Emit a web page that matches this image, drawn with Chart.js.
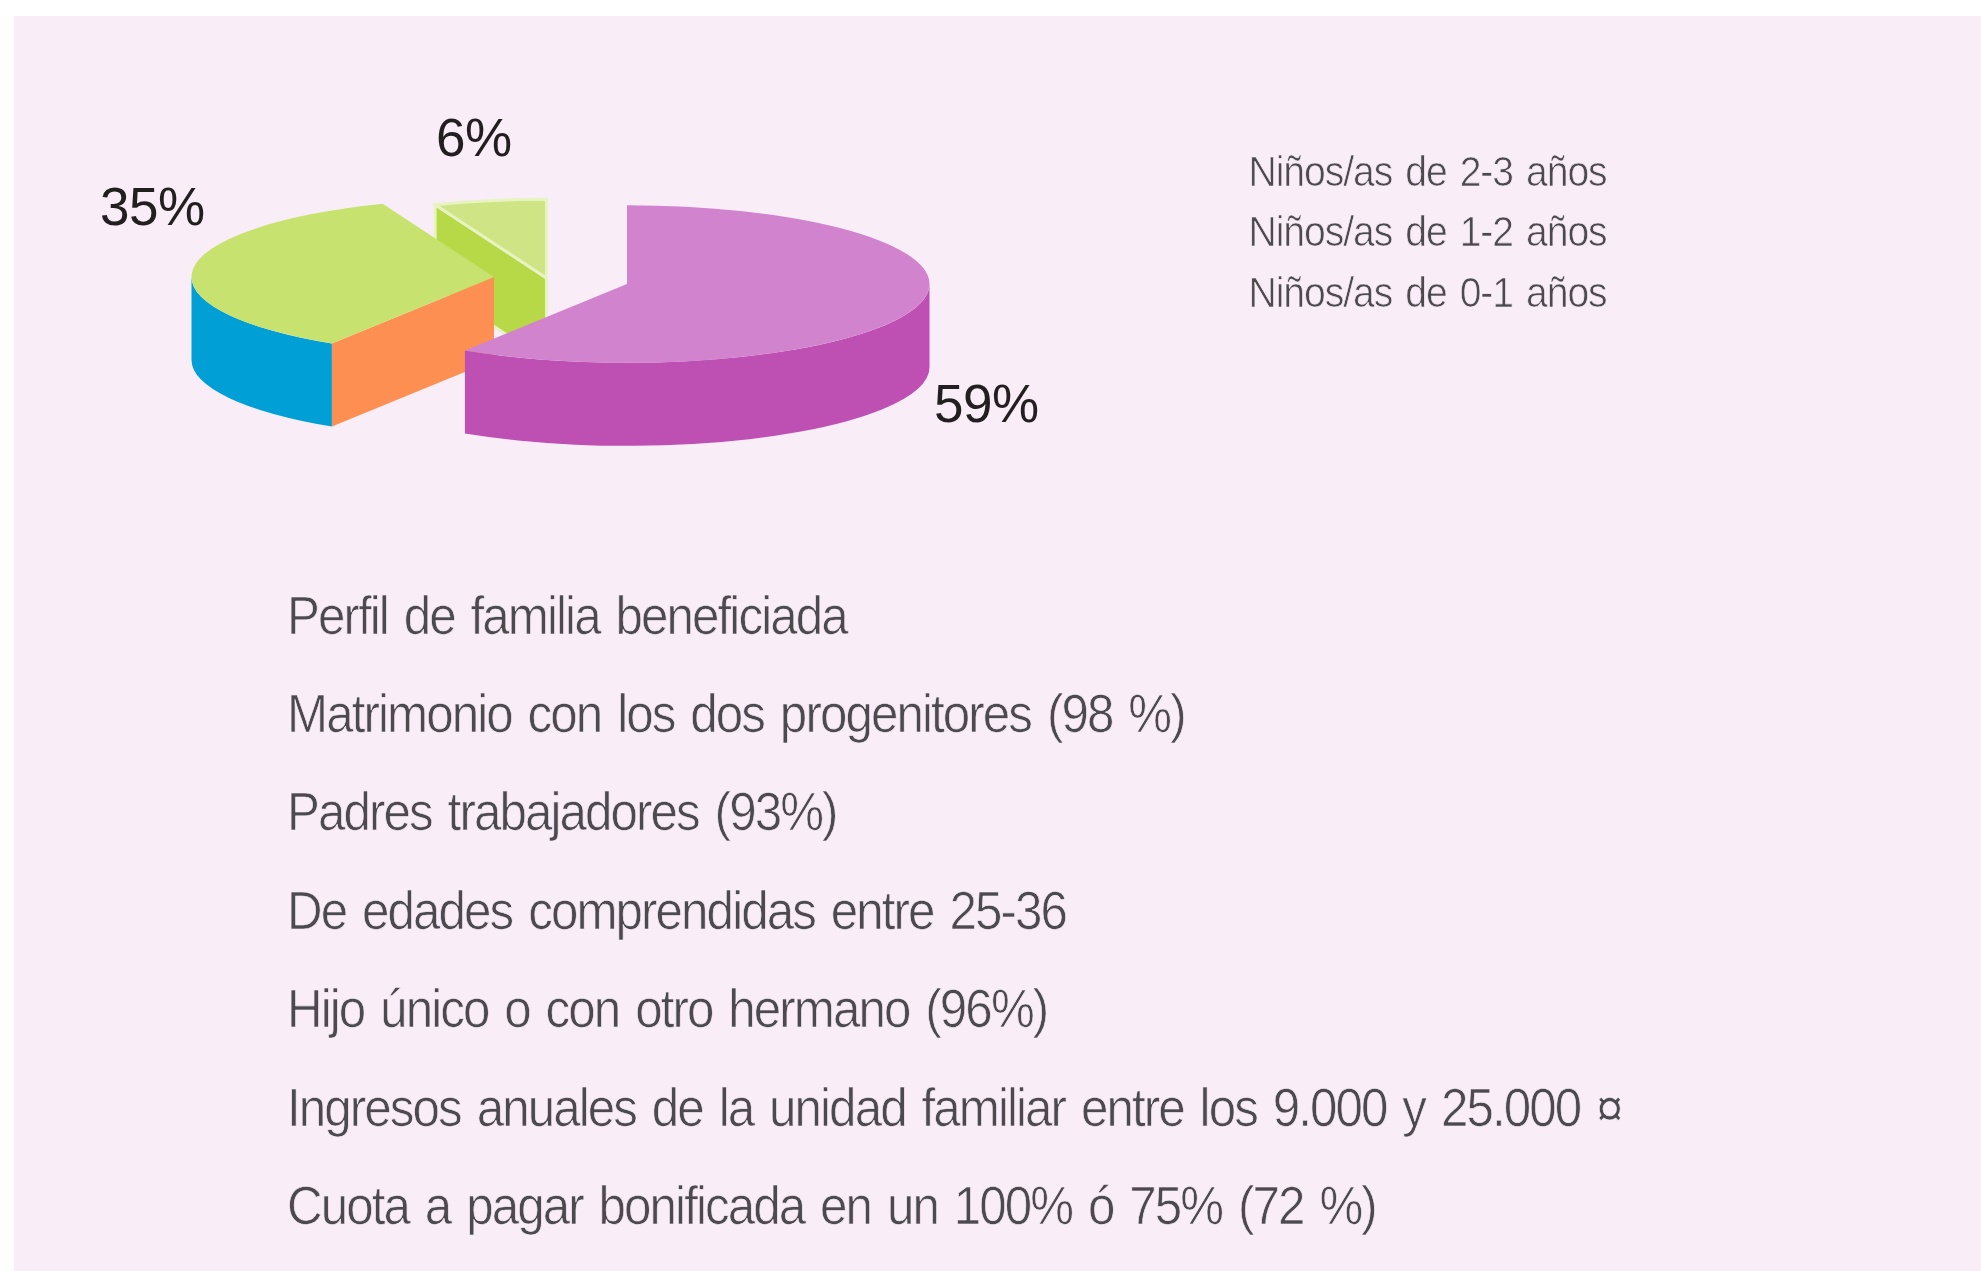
<!DOCTYPE html>
<html><head><meta charset="utf-8">
<style>html,body{margin:0;padding:0;background:#fff}canvas{display:block}</style>
<script src="https://cdn.jsdelivr.net/npm/chart.js@4"></script>
</head><body>
<div style="width:1981px;height:1271px"><canvas id="c" width="1981" height="1271"></canvas></div>
<script>
const categories=["Niños/as de 0-1 años","Niños/as de 1-2 años","Niños/as de 2-3 años"];
const shares=[59,35,6];
const valueLabels=["59%","35%","6%"];
const profileLines=["Perfil de familia beneficiada","Matrimonio con los dos progenitores (98 %)","Padres trabajadores (93%)","De edades comprendidas entre 25-36","Hijo único o con otro hermano (96%)","Ingresos anuales de la unidad familiar entre los 9.000 y 25.000 ¤","Cuota a pagar bonificada en un 100% ó 75% (72 %)"];
const topColors=["#d183cd","#c8e26f","#cfe585"];
const wallColors=["#bf50b3","#00a0d6","#b7d947"];
const cutColors=["#bf50b3","#fe8f52","#b7d947"];
const edgeColors=[null,null,"#e8f3c2"];

const PANEL={x:14,y:16,color:"#f9edf8"};
const PIE={radius:302.5,squash:79/303,depth:83};
const CENTERS=[[627,284],[494,277],[546.5,278]];
const LABEL_POS=[[934,421.5],[100,225],[436,155.5]];
const BODY={x:287,y0:633.5,step:98.4,size:53,spacing:-2.04,words:4.3,color:"#4c4a4f"};
const LEG={x:1227.5,y:153.2,size:42,pad:18.6,spacing:-1.12,words:3.5,color:"#4c4a4f"};
const THIN=0.7, NARROW=0.93;

const proto=CanvasRenderingContext2D.prototype;
function thinText(c,t,x,y){
  c.save();
  c.translate(x,y); c.scale(NARROW,1);
  proto.fillText.call(c,t,0,0);
  c.strokeStyle=PANEL.color; c.lineWidth=THIN; c.lineJoin="round"; proto.strokeText.call(c,t,0,0);
  c.restore();
}

class Pie3DController extends Chart.PieController{
  draw(){
    const ctx=this.chart.ctx, arcs=this.getMeta().data, k=PIE.squash, R=PIE.radius, D=PIE.depth;
    [2,1,0].forEach(i=>{
      const a=arcs[i]; a.x=CENTERS[i][0]; a.y=CENTERS[i][1];
      const x=a.x,y=a.y,s=a.startAngle,e=a.endAngle,ry=R*k;
      const px=Math.cos(s)*R+x, py=Math.sin(s)*ry+y;
      const w1=Math.max(s,0), w2=Math.min(e,Math.PI);
      if(w2>w1){
        ctx.beginPath(); ctx.ellipse(x,y,R,ry,0,w1,w2);
        ctx.ellipse(x,y+D,R,ry,0,w2,w1,true); ctx.closePath();
        ctx.fillStyle=wallColors[i]; ctx.fill();
      }
      if(i>0){
        ctx.beginPath(); ctx.moveTo(x,y); ctx.lineTo(px,py); ctx.lineTo(px,py+D); ctx.lineTo(x,y+D); ctx.closePath();
        ctx.fillStyle=cutColors[i]; ctx.fill();
        if(edgeColors[i]){ctx.strokeStyle=edgeColors[i];ctx.lineWidth=3;ctx.stroke();}
      }
      ctx.save();
      ctx.translate(x,y); ctx.scale(1,k); ctx.translate(-x,-y);
      a.draw(ctx);
      ctx.restore();
      if(edgeColors[i]){
        ctx.beginPath(); ctx.ellipse(x,y,R,ry,0,s,e); ctx.lineTo(x,y); ctx.closePath();
        ctx.strokeStyle=edgeColors[i]; ctx.lineWidth=3; ctx.stroke();
      }
    });
  }
}
Pie3DController.id="pie3d";
Pie3DController.defaults=Chart.PieController.defaults;
Chart.register(Pie3DController);

const textPlugin={
  id:"texts",
  beforeDraw(ch){
    const c=ch.ctx; c.save(); c.fillStyle="#fff"; c.fillRect(0,0,ch.width,ch.height);
    c.fillStyle=PANEL.color; c.fillRect(PANEL.x,PANEL.y,ch.width-PANEL.x,ch.height-PANEL.y); c.restore();
    c.letterSpacing=LEG.spacing+"px"; c.wordSpacing=LEG.words+"px";
    c.fillText=function(t,x,y){ thinText(c,t,x,y); };
  },
  beforeDatasetsDraw(ch){ delete ch.ctx.fillText; ch.ctx.letterSpacing="0px"; ch.ctx.wordSpacing="0px"; },
  afterDraw(ch){
    const c=ch.ctx; c.save(); c.textBaseline="alphabetic"; c.textAlign="left";
    c.font='53px "Liberation Sans"'; c.fillStyle="#231f20"; c.letterSpacing="-0.5px";
    valueLabels.forEach((t,i)=>c.fillText(t,LABEL_POS[i][0],LABEL_POS[i][1]));
    c.font=BODY.size+'px "Liberation Sans"'; c.fillStyle=BODY.color; c.letterSpacing=BODY.spacing+"px"; c.wordSpacing=BODY.words+"px";
    profileLines.forEach((t,i)=>thinText(c,t,BODY.x,BODY.y0+i*BODY.step));
    c.restore();
  }
};

new Chart(document.getElementById("c"),{
  type:"pie3d",
  data:{labels:categories,datasets:[{data:shares,backgroundColor:topColors,borderWidth:0,radius:PIE.radius}]},
  options:{
    responsive:false,animation:false,
    layout:{padding:0},
    plugins:{
      tooltip:{enabled:false},
      legend:{display:true,position:"chartArea",align:"start",reverse:true,
        labels:{color:LEG.color,font:{family:'"Liberation Sans"',size:LEG.size},boxWidth:0,boxHeight:0,padding:LEG.pad,
          generateLabels(ch){return ch.data.labels.map((t,i)=>({text:t,fillStyle:"rgba(0,0,0,0)",strokeStyle:"rgba(0,0,0,0)",lineWidth:0,index:i,fontColor:LEG.color}));}}
      }
    }
  },
  plugins:[textPlugin,{
    id:"legendPlace",
    afterLayout(ch){const l=ch.legend; const w=l.width,h=l.height; l.left=LEG.x-LEG.pad;l.top=LEG.y-LEG.pad;l.right=l.left+w;l.bottom=l.top+h;}
  }]
});
</script>
</body></html>
